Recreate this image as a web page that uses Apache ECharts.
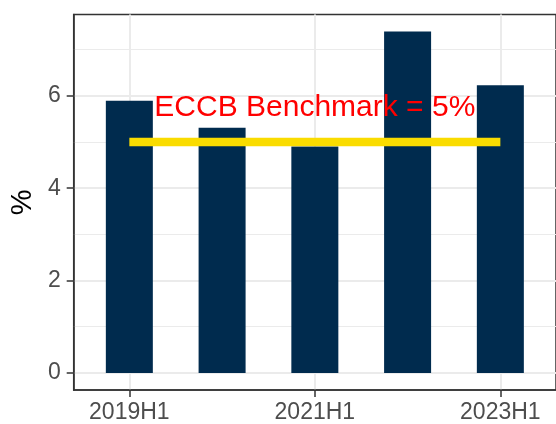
<!DOCTYPE html>
<html>
<head>
<meta charset="utf-8">
<script src="https://cdn.jsdelivr.net/npm/echarts@6/dist/echarts.min.js"></script>
<style>
  html, body { margin: 0; padding: 0; background: #fff; }
  #chart { width: 556px; height: 424px; }
</style>
</head>
<body>
<div id="chart"></div>
<script>
const periods = ['2019H1', '2020H1', '2021H1', '2022H1', '2023H1'];
const ratios = [5.89, 5.31, 4.9, 7.39, 6.23];
const benchmark = 5;
const benchmarkLabel = 'ECCB Benchmark = 5%';
const benchmarkLabelY = 5.74;
const yTicks = [0, 2, 4, 6];
const yMinorTicks = [1, 3, 5, 7];
const xLabelled = [1, 3, 5]; // positions of the labelled periods

const FONT = 'Liberation Sans';
const maxRatio = Math.max(...ratios);
// ggplot style 5% padding around the data
const yMin = -0.05 * maxRatio;
const yMax = 1.05 * maxRatio;

const chart = echarts.init(document.getElementById('chart'));

const option = {
  animation: false,
  backgroundColor: '#fff',
  grid: {
    left: 72,
    top: 14.5,
    width: 486,
    height: 377,
    show: true,
    borderColor: '#333',
    borderWidth: 1.5,
    containLabel: false,
  },
  xAxis: {
    type: 'value',
    min: 0.4,
    max: periods.length + 0.6,
    axisLine: { show: true, onZero: false, lineStyle: { color: '#333', width: 1.5 } },
    axisTick: { show: true, length: 7, customValues: xLabelled, lineStyle: { color: '#333', width: 1.5 } },
    axisLabel: {
      customValues: xLabelled,
      margin: 11,
      color: '#4d4d4d',
      fontSize: 23,
      fontFamily: FONT,
      formatter: v => periods[Math.round(v) - 1],
    },
    splitLine: { show: true, lineStyle: { color: '#ebebeb', width: 2 } },
  },
  yAxis: [
    {
      type: 'value',
      min: yMin,
      max: yMax,
      name: '%',
      nameLocation: 'middle',
      nameRotate: 90,
      nameGap: 36,
      nameTextStyle: { color: '#000', fontSize: 29, fontFamily: FONT },
      axisLine: { show: true, onZero: false, lineStyle: { color: '#333', width: 1.5 } },
      axisTick: { show: true, length: 7, customValues: yTicks, lineStyle: { color: '#333', width: 1.5 } },
      axisLabel: {
        customValues: yTicks,
        margin: 13,
        color: '#4d4d4d',
        fontSize: 23,
        fontFamily: FONT,
      },
      splitLine: { show: true, lineStyle: { color: '#ebebeb', width: 2 } },
    },
    {
      // minor grid only
      type: 'value',
      min: yMin,
      max: yMax,
      position: 'left',
      axisLine: { show: false },
      axisTick: { show: false, customValues: yMinorTicks },
      axisLabel: { show: false },
      splitLine: { show: true, lineStyle: { color: '#ebebeb', width: 1 } },
    },
  ],
  series: [
    {
      type: 'bar',
      barWidth: 47,
      itemStyle: { color: '#002b4e' },
      data: ratios.map((v, i) => [i + 1, v]),
      z: 2,
    },
    {
      type: 'line',
      showSymbol: false,
      symbol: 'none',
      lineStyle: { color: '#fadc00', width: 8.5, cap: 'butt' },
      data: [[1, benchmark], [periods.length, benchmark]],
      z: 3,
    },
    {
      type: 'scatter',
      symbolSize: 0,
      itemStyle: { opacity: 1 },
      data: [[(periods.length + 1) / 2, benchmarkLabelY]],
      label: {
        show: true,
        position: 'inside',
        formatter: benchmarkLabel,
        color: '#ff0000',
        opacity: 1,
        fontSize: 30,
        fontFamily: FONT,
      },
      z: 4,
    },
  ],
};

chart.setOption(option);
</script>
</body>
</html>
